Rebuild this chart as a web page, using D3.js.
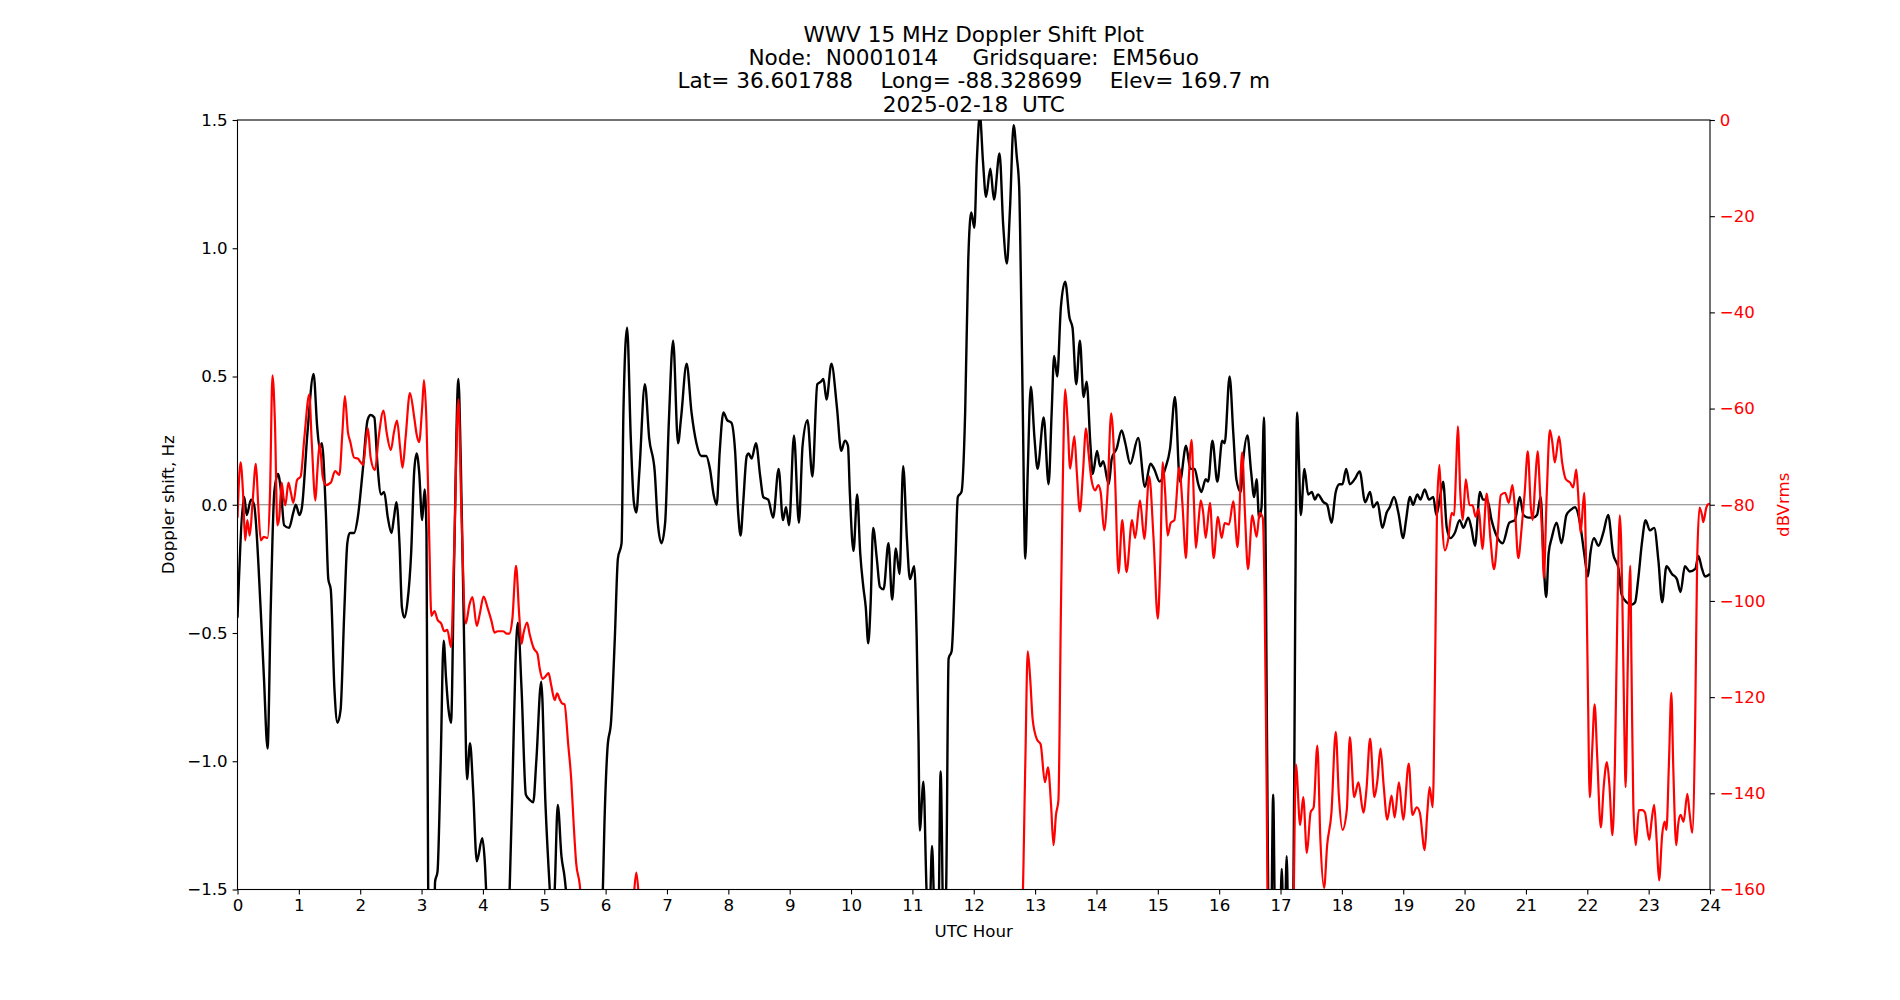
<!DOCTYPE html>
<html>
<head>
<meta charset="utf-8">
<script src="https://cdn.jsdelivr.net/npm/d3@7"></script>
<style>
  body { margin: 0; background: #fff; }
  text { font-family: "DejaVu Sans", sans-serif; }
</style>
</head>
<body>
<div id="plot"></div>
<script>
// chart data
let titleLines = [
    "WWV 15 MHz Doppler Shift Plot",
    "Node:  N0001014     Gridsquare:  EM56uo",
    "Lat= 36.601788    Long= -88.328699    Elev= 169.7 m",
    "2025-02-18  UTC"
];
let hourTicks = d3.range(0, 25);
let dopplerTicks = [-1.5, -1.0, -0.5, 0.0, 0.5, 1.0, 1.5];
let powerTicks = [-160, -140, -120, -100, -80, -60, -40, -20, 0];

// Doppler shift (Hz), black trace
let dopHours = [0,0.11,0.15,0.22,0.27,0.38,0.43,0.49,0.54,0.60,0.66,0.71,0.76,0.84,0.91,0.95,1.01,1.05,1.14,1.24,1.30,1.34,1.375,1.44,
    1.48,1.52,1.58,1.63,1.68,1.74,1.79,1.83,1.90,1.96,2.04,2.12,2.17,2.23,2.28,2.34,2.39,2.45,2.51,2.55,2.59,2.64,2.68,2.72,2.77,2.83,
    2.88,2.92,2.96,3.01,3.05,3.08,3.11,3.16,3.21,3.22,3.26,3.31,3.36,3.40,3.44,3.48,3.53,3.60,3.64,3.70,3.74,3.79,3.84,3.90,3.99,4.03,
    4.07,4.15,4.35,4.43,4.49,4.53,4.57,4.63,4.70,4.76,4.82,4.87,4.95,5.02,5.09,5.13,5.17,5.22,5.28,5.33,5.37,5.45,5.88,5.95,5.98,6.03,
    6.09,6.15,6.20,6.26,6.29,6.35,6.41,6.46,6.50,6.55,6.64,6.71,6.80,6.85,6.91,6.97,7.03,7.10,7.18,7.23,7.32,7.40,7.48,7.56,7.64,7.70,
    7.76,7.81,7.86,7.92,7.98,8.05,8.11,8.16,8.20,8.24,8.30,8.33,8.38,8.45,8.52,8.57,8.65,8.73,8.82,8.89,8.94,8.99,9.07,9.15,9.21,9.29,
    9.37,9.45,9.51,9.55,9.60,9.68,9.77,9.84,9.90,9.95,9.98,10.04,10.10,10.15,10.20,10.24,10.28,10.32,10.36,10.42,10.47,10.53,10.61,
    10.67,10.73,10.79,10.85,10.91,10.96,11.03,11.07,11.10,11.12,11.18,11.23,11.27,11.32,11.36,11.42,11.46,11.51,11.55,11.59,11.64,
    11.70,11.74,11.80,11.86,11.91,11.96,12.01,12.05,12.10,12.15,12.20,12.27,12.33,12.42,12.48,12.54,12.59,12.65,12.70,12.74,12.77,
    12.80,12.84,12.88,12.93,12.99,13.04,13.14,13.22,13.27,13.31,13.36,13.42,13.49,13.56,13.61,13.67,13.73,13.79,13.84,13.90,13.94,
    14.01,14.06,14.11,14.20,14.25,14.33,14.41,14.47,14.55,14.68,14.79,14.88,14.94,15.03,15.12,15.20,15.28,15.36,15.46,15.53,15.60,
    15.66,15.71,15.78,15.82,15.89,15.97,16.05,16.09,16.17,16.23,16.28,16.35,16.39,16.46,16.52,16.57,16.61,16.65,16.69,16.73,16.76,
    16.80,16.84,16.88,16.92,16.98,17.02,17.06,17.10,17.14,17.20,17.24,17.27,17.30,17.33,17.39,17.45,17.51,17.56,17.61,17.70,17.76,
    17.83,17.90,17.96,18.01,18.07,18.13,18.21,18.29,18.38,18.46,18.51,18.58,18.66,18.73,18.78,18.85,18.92,19.00,19.04,19.11,19.16,
    19.23,19.28,19.35,19.42,19.49,19.54,19.60,19.65,19.71,19.77,19.84,19.92,19.98,20.06,20.11,20.17,20.25,20.30,20.37,20.44,20.52,
    20.62,20.73,20.82,20.90,20.96,21.04,21.12,21.18,21.24,21.29,21.33,21.37,21.42,21.50,21.58,21.66,21.73,21.80,21.88,21.95,22.01,
    22.05,22.11,22.18,22.26,22.34,22.42,22.51,22.56,22.64,22.72,22.78,22.83,22.89,22.95,23.02,23.09,23.16,23.22,23.29,23.38,23.46,
    23.52,23.59,23.67,23.76,23.81,23.87,23.92,24.00];
let dopShift = [-0.44,0.03,-0.04,0.02,0.00,-0.42,-0.67,-0.95,-0.42,0.05,0.12,0.05,-0.08,-0.09,-0.03,0.00,-0.04,-0.01,0.28,0.51,0.30,0.22,0.24,-0.03,
    -0.29,-0.33,-0.72,-0.85,-0.80,-0.42,-0.15,-0.11,-0.11,-0.05,0.13,0.33,0.35,0.34,0.16,0.04,0.05,-0.05,-0.11,-0.05,0.01,-0.15,-0.40,-0.44,-0.38,-0.19,
    0.13,0.20,0.13,-0.06,0.06,-0.11,-1.6,-1.9,-1.6,-1.47,-1.43,-1.02,-0.53,-0.68,-0.80,-0.85,-0.23,0.49,0.16,-0.62,-1.07,-0.93,-1.11,-1.39,-1.30,-1.39,
    -1.6,-1.9,-1.9,-1.55,-1.01,-0.62,-0.46,-0.72,-1.13,-1.15,-1.16,-1.00,-0.69,-1.17,-1.50,-1.65,-1.50,-1.17,-1.37,-1.45,-1.55,-1.9,-1.9,-1.55,-1.25,-0.95,
    -0.84,-0.52,-0.21,-0.15,0.36,0.69,0.26,0.01,-0.03,0.13,0.47,0.26,0.13,-0.07,-0.15,-0.07,0.32,0.64,0.24,0.34,0.55,0.36,0.24,0.19,0.19,0.14,
    0.04,0.00,0.21,0.36,0.33,0.32,0.21,-0.03,-0.12,0.00,0.19,0.20,0.18,0.24,0.11,0.03,0.02,-0.05,0.14,-0.06,-0.01,-0.08,0.27,-0.07,0.23,0.33,
    0.11,0.47,0.48,0.49,0.41,0.55,0.38,0.21,0.25,0.23,0.05,-0.18,0.04,-0.19,-0.32,-0.40,-0.54,-0.38,-0.09,-0.21,-0.32,-0.33,-0.15,
    -0.37,-0.17,-0.27,0.15,-0.13,-0.29,-0.24,-0.52,-0.92,-1.27,-1.08,-1.50,-1.7,-1.33,-1.6,-1.7,-1.04,-1.7,-1.50,-0.60,-0.57,
    -0.23,0.03,0.05,0.36,0.95,1.14,1.08,1.34,1.52,1.34,1.20,1.31,1.19,1.37,1.09,0.94,1.15,1.48,1.36,1.24,0.85,
    0.36,-0.21,0.13,0.46,0.26,0.14,0.34,0.08,0.36,0.58,0.50,0.77,0.87,0.73,0.69,0.47,0.64,0.42,0.48,0.24,0.12,
    0.21,0.15,0.17,0.08,0.18,0.22,0.29,0.24,0.16,0.26,0.07,0.16,0.14,0.09,0.14,0.22,0.42,0.09,0.23,0.14,0.14,
    0.08,0.05,0.10,0.09,0.25,0.09,0.25,0.24,0.50,0.28,0.10,0.05,0.17,0.27,0.13,0.03,0.10,-0.05,-0.01,0.34,-0.23,
    -1.55,-1.8,-1.13,-1.8,-1.8,-1.42,-1.8,-1.37,-1.8,-1.8,-0.40,0.36,0.17,-0.04,0.14,0.04,0.05,0.02,0.04,0.01,0.00,
    -0.07,0.05,0.08,0.08,0.14,0.08,0.10,0.13,0.01,0.05,-0.01,0.01,-0.09,-0.03,-0.01,0.03,-0.03,-0.13,-0.07,0.03,0.00,
    0.04,0.02,0.06,0.02,0.03,-0.04,0.03,0.09,-0.09,-0.13,-0.11,-0.06,-0.09,-0.05,-0.09,-0.16,0.05,0.02,0.02,-0.06,-0.12,
    -0.15,-0.07,-0.06,0.03,-0.04,-0.05,-0.05,-0.04,0.03,-0.23,-0.36,-0.19,-0.13,-0.07,-0.15,-0.04,-0.02,-0.01,-0.07,-0.19,-0.28,
    -0.19,-0.13,-0.16,-0.11,-0.04,-0.19,-0.25,-0.35,-0.38,-0.39,-0.38,-0.29,-0.15,-0.06,-0.10,-0.09,-0.22,-0.38,-0.24,-0.27,-0.29,
    -0.34,-0.24,-0.26,-0.25,-0.20,-0.25,-0.28,-0.27];

// received power (dBVrms), red trace
let pwrHours = [0,0.05,0.09,0.125,0.16,0.20,0.245,0.30,0.34,0.38,0.43,0.49,0.53,0.57,0.61,0.65,0.68,0.72,0.75,0.78,0.83,0.87,0.91,0.97,
    1.03,1.09,1.17,1.21,1.27,1.30,1.34,1.39,1.44,1.52,1.59,1.66,1.71,1.75,1.80,1.84,1.90,1.96,2.01,2.05,2.09,2.125,2.17,2.24,2.30,
    2.38,2.43,2.50,2.55,2.60,2.65,2.69,2.74,2.81,2.88,2.92,2.96,3.01,3.04,3.08,3.125,3.16,3.21,3.26,3.32,3.37,3.42,3.48,3.53,3.60,
    3.65,3.72,3.78,3.83,3.90,3.95,4.01,4.08,4.14,4.19,4.24,4.33,4.39,4.43,4.48,4.54,4.59,4.63,4.66,4.72,4.76,4.83,4.89,4.92,4.97,
    5.02,5.07,5.11,5.17,5.21,5.25,5.29,5.33,5.39,5.44,5.48,5.52,5.58,5.62,5.70,6.38,6.45,6.50,6.55,6.62,12.70,12.79,12.84,12.88,
    12.92,12.96,13.03,13.09,13.16,13.21,13.26,13.30,13.34,13.38,13.42,13.45,13.49,13.53,13.57,13.64,13.68,13.73,13.78,13.83,13.87,
    13.92,13.98,14.03,14.07,14.125,14.18,14.24,14.30,14.36,14.42,14.49,14.58,14.63,14.71,14.78,14.86,14.93,15.00,15.04,15.08,15.12,
    15.16,15.21,15.27,15.35,15.40,15.46,15.50,15.55,15.59,15.62,15.66,15.70,15.74,15.78,15.85,15.91,15.98,16.04,16.09,16.16,16.23,
    16.30,16.375,16.42,16.47,16.54,16.61,16.66,16.71,16.74,16.77,16.80,17.20,17.25,17.32,17.37,17.43,17.49,17.54,17.60,17.65,17.71,
    17.76,17.83,17.90,17.95,18.01,18.08,18.13,18.20,18.27,18.35,18.40,18.46,18.53,18.58,18.63,18.68,18.74,18.81,18.86,18.93,19.00,
    19.09,19.15,19.22,19.27,19.35,19.39,19.43,19.48,19.52,19.55,19.59,19.625,19.68,19.73,19.79,19.83,19.86,19.89,19.93,19.97,20.02,
    20.08,20.13,20.18,20.23,20.29,20.36,20.42,20.48,20.54,20.59,20.66,20.72,20.78,20.82,20.875,20.93,20.98,21.03,21.08,21.11,21.15,
    21.19,21.23,21.27,21.29,21.34,21.39,21.43,21.47,21.54,21.59,21.65,21.72,21.77,21.82,21.85,21.89,21.95,21.98,22.01,22.04,22.08,
    22.12,22.16,22.22,22.27,22.32,22.36,22.41,22.45,22.49,22.53,22.57,22.60,22.625,22.66,22.70,22.72,22.75,22.79,22.84,22.90,22.94,
    23.01,23.05,23.09,23.13,23.17,23.22,23.26,23.29,23.33,23.37,23.40,23.45,23.48,23.52,23.57,23.63,23.67,23.71,23.76,23.79,23.83,
    23.87,23.89,23.94,23.97,24.00];
let pwrDb = [-82.7,-71.2,-77.5,-87.4,-83.2,-86.4,-79.6,-71.5,-80.6,-87.4,-86.7,-86.9,-77.5,-53.1,-62.8,-84.3,-82.7,-75.4,-78.5,-80.1,-75.4,-77.5,-79.6,-74.9,
    -74.1,-66.0,-57.1,-67.0,-79.1,-73.3,-67.3,-74.3,-75.9,-75.4,-73.0,-73.8,-64.9,-57.4,-64.9,-67.0,-70.2,-70.4,-71.2,-71.7,-67.0,-64.1,-70.2,-72.8,-66.0,
    -60.4,-64.9,-68.6,-64.9,-62.5,-68.1,-72.3,-66.0,-56.8,-61.8,-65.4,-67.0,-59.7,-54.1,-62.8,-86.9,-103.1,-102.1,-103.9,-104.7,-106.3,-106.0,-109.6,-90.1,-58.1,
    -81.7,-104.7,-100.8,-99.2,-105.2,-102.6,-99.1,-101.6,-104.2,-106.6,-106.3,-106.3,-106.8,-106.8,-103.7,-92.7,-102.6,-108.9,-106.8,-104.5,-106.8,-109.9,-111.0,-113.6,-116.2,
    -115.7,-115.0,-117.3,-120.6,-119.2,-120.4,-121.3,-121.5,-129.8,-137.2,-146.6,-154.5,-159.2,-166,-175,-175,-163,-156.5,-163,-175,-175,-165,-134,-110.5,
    -116.2,-124.6,-128.8,-129.8,-137.7,-134.6,-142.4,-150.8,-144.5,-141.4,-102.6,-76.4,-56.0,-62.8,-72.5,-65.8,-73.3,-81.4,-73.3,-64.1,-69.1,
    -74.9,-77.0,-75.9,-77.5,-85.3,-77.5,-61.0,-73.3,-94.2,-83.2,-94.0,-83.2,-86.9,-79.1,-87.1,-74.1,-86.9,-103.7,-92.1,-71.2,-77.5,
    -86.4,-83.8,-83.2,-72.3,-79.6,-91.1,-76.4,-66.5,-80.0,-89.0,-84.0,-79.1,-81.7,-86.9,-79.6,-91.1,-82.5,-86.9,-83.8,-84.1,-79.3,
    -88.8,-69.1,-81.7,-93.4,-82.2,-86.7,-81.7,-82.7,-98.4,-134,-170,-170,-134,-146.6,-140.8,-152.4,-144.0,-142.9,-130.1,-149.7,-159.7,
    -150.8,-144.0,-127.2,-140.3,-147.6,-143.5,-128.3,-140.8,-137.7,-144.0,-139.3,-128.6,-140.8,-137.2,-130.7,-138.2,-145.5,-140.5,-145.0,-137.7,-145.5,
    -133.8,-144.5,-142.9,-144.0,-151.8,-144.5,-138.7,-142.9,-113.1,-81.7,-71.7,-81.7,-89.5,-87.4,-81.7,-82.2,-73.3,-63.7,-77.5,-83.2,-74.7,
    -80.1,-80.1,-82.5,-80.8,-89.2,-77.7,-86.9,-93.4,-85.9,-78.0,-77.5,-79.6,-75.9,-80.6,-91.1,-84.8,-77.5,-68.9,-80.6,-83.2,-75.4,
    -68.9,-77.5,-88.0,-95.3,-77.5,-64.5,-67.0,-71.2,-65.8,-71.2,-74.7,-75.4,-76.4,-72.7,-77.5,-85.9,-77.5,-92.1,-118.3,-140.8,-130.9,
    -121.5,-131.9,-147.1,-138.2,-133.5,-138.2,-148.7,-134.0,-102.6,-82.2,-98.4,-123.6,-138.7,-113.1,-92.7,-113.1,-142.4,-150.8,-143.5,-143.5,-144.0,
    -149.7,-145.5,-142.4,-149.7,-158.1,-148.7,-145.9,-147.6,-134.0,-119.1,-134.0,-150.8,-146.6,-144.5,-145.9,-140.1,-144.5,-148.2,-123.6,-92.1,-80.6,
    -82.2,-83.6,-80.6,-79.9,-79.8];

let svgWidth = 1900;
let svgHeight = 1000;
let margin = { top: 120, right: 190, bottom: 110.5, left: 237.5 };
let width = svgWidth - margin.left - margin.right;
let height = svgHeight - margin.top - margin.bottom;
let tickLen = 4.9;
let tickFont = 16.67;

let svg = d3.select('#plot')
            .append('svg')
            .attr('width', svgWidth)
            .attr('height', svgHeight);

let chart = svg.append('g')
            .attr('transform', `translate(${margin.left},${margin.top})`);

let xScale = d3.scaleLinear().domain([0, 24]).range([0, width]);
let yDop = d3.scaleLinear().domain([-1.5, 1.5]).range([height, 0]);
let yPwr = d3.scaleLinear().domain([-160, 0]).range([height, 0]);

chart.append('clipPath')
        .attr('id', 'plotClip')
        .append('rect')
        .attr('width', width)
        .attr('height', height);

// zero line
chart.append('line')
        .attr('x1', 0).attr('x2', width)
        .attr('y1', yDop(0)).attr('y2', yDop(0))
        .attr('stroke', '#808080')
        .attr('stroke-width', 1.1);

let dopLine = d3.line()
                .x((d, i) => xScale(dopHours[i]))
                .y(d => yDop(d))
                .curve(d3.curveMonotoneX);

let pwrLine = d3.line()
                .x((d, i) => xScale(pwrHours[i]))
                .y(d => yPwr(d))
                .curve(d3.curveMonotoneX);

let traces = chart.append('g').attr('clip-path', 'url(#plotClip)');

traces.append('path')
        .attr('d', dopLine(dopShift))
        .attr('fill', 'none')
        .attr('stroke', '#000')
        .attr('stroke-width', 2.4)
        .attr('stroke-linejoin', 'round');

traces.append('path')
        .attr('d', pwrLine(pwrDb))
        .attr('fill', 'none')
        .attr('stroke', '#ff0000')
        .attr('stroke-width', 2.2)
        .attr('stroke-linejoin', 'round');

// axes
let xAxis = d3.axisBottom(xScale)
                .tickValues(hourTicks)
                .tickFormat(d3.format('d'))
                .tickSize(tickLen)
                .tickPadding(4.9);

let yAxis = d3.axisLeft(yDop)
                .tickValues(dopplerTicks)
                .tickFormat(d3.format('.1f'))
                .tickSize(tickLen)
                .tickPadding(4.9);

let yAxisRight = d3.axisRight(yPwr)
                .tickValues(powerTicks)
                .tickFormat(d3.format('d'))
                .tickSize(tickLen)
                .tickPadding(4.9);

let gx = chart.append('g')
        .attr('transform', `translate(0,${height})`)
        .call(xAxis);

let gy = chart.append('g')
        .call(yAxis);

let gyr = chart.append('g')
        .attr('transform', `translate(${width},0)`)
        .call(yAxisRight);

[gx, gy, gyr].forEach(function(g){
    g.select('.domain').remove();
    g.selectAll('.tick line').attr('stroke', '#000').attr('stroke-width', 1.1);
    g.selectAll('.tick text')
        .attr('fill', '#000')
        .style('font-family', '"DejaVu Sans", sans-serif')
        .style('font-size', tickFont + 'px');
});
gyr.selectAll('.tick text').attr('fill', '#ff0000');

// frame
chart.append('rect')
        .attr('width', width)
        .attr('height', height)
        .attr('fill', 'none')
        .attr('stroke', '#000')
        .attr('stroke-width', 1.1);

// axis labels
chart.append('text')
        .attr('x', width / 2)
        .attr('y', height + 47)
        .attr('text-anchor', 'middle')
        .style('font-size', tickFont + 'px')
        .text('UTC Hour');

chart.append('text')
        .attr('transform', `translate(${-64},${height / 2}) rotate(-90)`)
        .attr('text-anchor', 'middle')
        .style('font-size', tickFont + 'px')
        .text('Doppler shift, Hz');

chart.append('text')
        .attr('transform', `translate(${width + 79},${height / 2}) rotate(-90)`)
        .attr('text-anchor', 'middle')
        .attr('fill', '#ff0000')
        .style('font-size', tickFont + 'px')
        .text('dBVrms');

// title block
svg.append('g')
    .selectAll('text')
    .data(titleLines)
    .join('text')
        .attr('x', margin.left + width / 2)
        .attr('y', (d, i) => 41.5 + i * 23.4)
        .attr('text-anchor', 'middle')
        .style('font-size', '21.6px')
        .style('white-space', 'pre')
        .text(d => d);
</script>
</body>
</html>
